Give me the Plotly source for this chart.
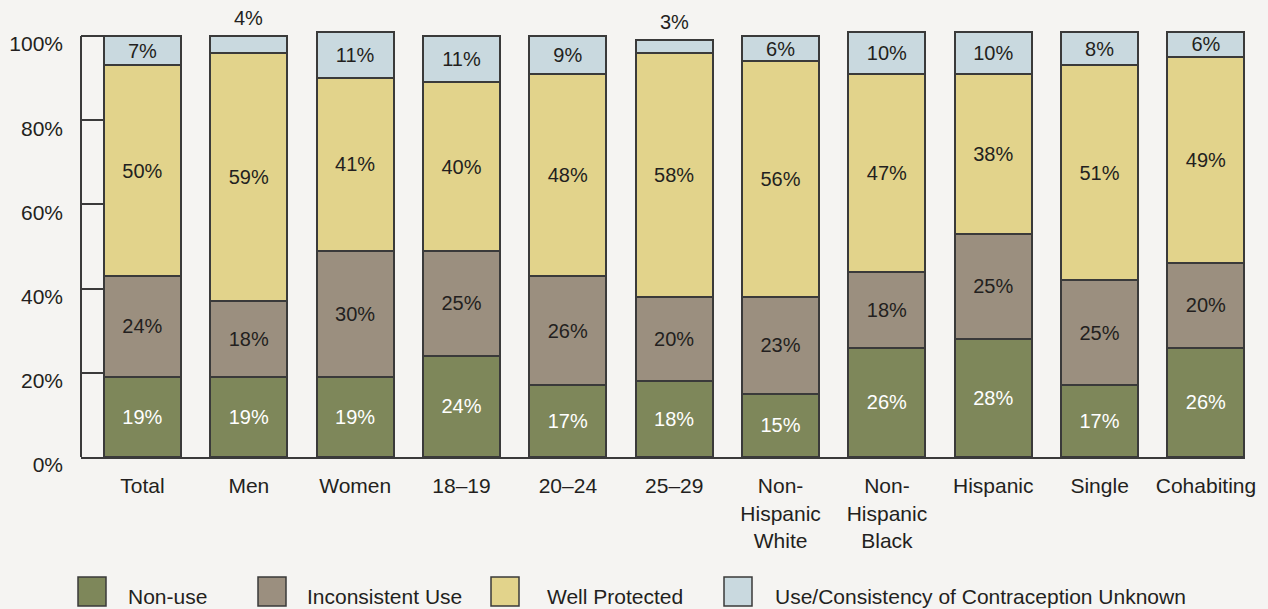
import plotly.graph_objects as go

categories = ["Total", "Men", "Women", "18–19", "20–24", "25–29",
              "Non-<br>Hispanic<br>White", "Non-<br>Hispanic<br>Black",
              "Hispanic", "Single", "Cohabiting"]
non_use = [19, 19, 19, 24, 17, 18, 15, 26, 28, 17, 26]
inconsistent = [24, 18, 30, 25, 26, 20, 23, 18, 25, 25, 20]
well_protected = [50, 59, 41, 40, 48, 58, 56, 47, 38, 51, 49]
unknown = [7, 4, 11, 11, 9, 3, 6, 10, 10, 8, 6]
y_ticks = [0, 20, 40, 60, 80, 100]

series_names = ["Non-use", "Inconsistent Use", "Well Protected",
                "Use/Consistency of Contraception Unknown"]
colors = ["#7e875a", "#9b8f7f", "#e2d38b", "#c9d9df"]
text_colors = ["#ffffff", "#231f20", "#231f20", "#231f20"]
BG = "#f5f4f2"
LINE = "#3a3a3a"
FONT = "Liberation Sans, Arial, sans-serif"
FS = 21

# plot area in pixels
L, R, T, B = 81, 1245, 2, 457
W, H = 1268, 609
YMAX = 100 * (B - T) / (B - 36)

fig = go.Figure()
all_series = [non_use, inconsistent, well_protected, unknown]
min_inside = 5
for name, vals, col, tc in zip(series_names, all_series, colors, text_colors):
    txt = [f"{v}%" if v >= min_inside else "" for v in vals]
    fig.add_trace(go.Bar(
        x=list(range(len(categories))), y=vals, name=name,
        marker=dict(color=col, line=dict(color=LINE, width=2)),
        text=txt, textposition="inside", insidetextanchor="middle",
        constraintext="none",
        textfont=dict(family=FONT, size=20, color=tc),
        showlegend=False,
    ))

annotations = []
# small values shown above bars
for i, v in enumerate(unknown):
    if v < min_inside:
        top = non_use[i] + inconsistent[i] + well_protected[i] + v
        annotations.append(dict(x=i, y=top, xref="x", yref="y", text=f"{v}%",
                                showarrow=False, yanchor="bottom", yshift=5,
                                font=dict(family=FONT, size=20, color="#231f20")))

# manual legend
def px_x(px):
    return (px - L) / (R - L)

def px_y(py):
    return (B - py) / (B - T)

shapes = []
legend_sq_x = [78, 258, 491, 724]
legend_tx_x = [126, 305, 545, 773]
for sx, tx, name, col in zip(legend_sq_x, legend_tx_x, series_names, colors):
    shapes.append(dict(type="rect", xref="paper", yref="paper",
                       x0=px_x(sx), x1=px_x(sx + 28), y0=px_y(577), y1=px_y(606),
                       fillcolor=col, line=dict(color=LINE, width=1.5)))
    annotations.append(dict(x=px_x(tx), y=px_y(596), xref="paper", yref="paper",
                            text=name, showarrow=False, xanchor="left", yanchor="middle",
                            font=dict(family=FONT, size=FS, color="#231f20")))

# y axis line from 0 to 100
shapes.append(dict(type="line", xref="paper", yref="y", x0=0, x1=0, y0=0, y1=100,
                   line=dict(color=LINE, width=2)))

fig.update_layout(
    barmode="stack",
    bargap=0.276,
    width=W, height=H,
    margin=dict(l=L, r=W - R, t=T, b=H - B, autoexpand=False),
    paper_bgcolor=BG, plot_bgcolor=BG,
    font=dict(family=FONT, size=FS, color="#231f20"),
    shapes=shapes, annotations=annotations,
    xaxis=dict(
        tickmode="array", tickvals=list(range(len(categories))), ticktext=categories,
        range=[-0.578, len(categories) - 1 + 0.367],
        showline=True, linecolor=LINE, linewidth=2,
        ticks="outside", ticklen=9, tickcolor="rgba(0,0,0,0)",
        showgrid=False, zeroline=False,
        tickfont=dict(family=FONT, size=FS, color="#231f20"),
    ),
    yaxis=dict(
        range=[0, YMAX], tickvals=y_ticks, ticktext=[f"{t}%" for t in y_ticks],
        ticks="inside", ticklen=23, tickwidth=2, tickcolor=LINE,
        showline=False, showgrid=False, zeroline=False,
        ticklabelstandoff=17, ticklabelshift=8,
        tickfont=dict(family=FONT, size=FS, color="#231f20"),
    ),
)

fig.write_html("out.html", config={"displayModeBar": False},
               post_script="document.body.style.margin='0px';document.body.style.background='%s';" % BG)
